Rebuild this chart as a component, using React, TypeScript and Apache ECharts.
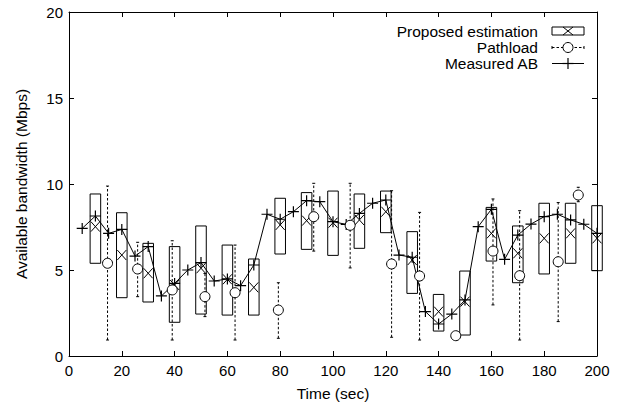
import React, { useEffect, useRef } from "react";
import * as echarts from "echarts";

// Measured available bandwidth (Mbps) every 5 s
const measuredTime = [5, 10, 15, 20, 25, 30, 35, 40, 45, 50, 55, 60, 65, 70, 75, 80, 85, 90, 95, 100, 105, 110, 115, 120, 125, 130, 135, 140, 145, 150, 155, 160, 165, 170, 175, 180, 185, 190, 195, 200];
const measuredAB = [7.42, 8.14, 7.13, 7.36, 5.81, 6.36, 3.49, 4.22, 5.0, 5.43, 4.36, 4.48, 4.09, 5.29, 8.24, 7.95, 8.39, 9.03, 8.97, 7.81, 7.65, 8.29, 8.88, 9.07, 5.87, 5.74, 2.58, 1.86, 2.44, 3.26, 7.52, 8.53, 5.62, 7.03, 7.67, 8.1, 8.24, 7.91, 7.66, 7.13];

// Proposed estimation: range box and point estimate every 10 s
const boxTime = [10, 20, 30, 40, 50, 60, 70, 80, 90, 100, 110, 120, 130, 140, 150, 160, 170, 180, 190, 200];
const boxLow = [5.39, 3.39, 3.14, 1.96, 2.44, 2.38, 2.38, 5.93, 6.2, 5.85, 6.26, 7.17, 3.64, 1.45, 1.22, 5.52, 4.26, 4.77, 5.39, 4.96];
const boxHigh = [9.42, 8.33, 6.55, 6.36, 7.56, 6.45, 5.64, 9.17, 9.5, 9.59, 9.42, 9.59, 7.23, 3.58, 4.94, 8.64, 7.56, 8.88, 8.88, 8.74];
const boxEstimate = [7.52, 5.87, 4.81, 4.13, 5.1, 4.46, 3.99, 7.62, 7.87, 7.75, 7.91, 8.39, 5.58, 2.58, 3.16, 7.13, 5.97, 6.84, 7.13, 6.84];

// Pathload: estimate with range
const pathloadTime = [14.6, 26, 39.1, 51.5, 62.9, 79.3, 92.7, 106.5, 122.2, 132.8, 146.5, 160.6, 170.7, 185.3, 192.9];
const pathloadValue = [5.39, 5.06, 3.84, 3.45, 3.68, 2.67, 8.1, 7.6, 5.35, 4.65, 1.18, 6.1, 4.67, 5.48, 9.36];
const pathloadLow = [0.93, 3.45, 0.93, 2.29, 0.93, 1.03, 6.1, 5.12, 1.09, 0.93, 1.05, 2.97, 0.93, 2.0, 8.97];
const pathloadHigh = [9.88, 6.61, 6.7, 4.8, 6.45, 4.26, 10.04, 10.04, 9.61, 8.35, 1.3, 9.13, 8.45, 8.92, 9.81];

const xMin = 0, xMax = 200, xStep = 20;
const yMin = 0, yMax = 20, yStep = 5;

const legendLabels = ["Proposed estimation", "Pathload", "Measured AB"];

const FONT = "'Liberation Sans', Arial, Helvetica, sans-serif";
const FS = 15;
const FT = 15.5;

export default function App() {
  const ref = useRef<HTMLDivElement>(null);
  useEffect(() => {
    if (!ref.current) return;
    const chart = echarts.init(ref.current, null, { renderer: "svg" });
    const black = "#000";
    const boxData = boxTime.map((t, i) => [t, boxLow[i], boxHigh[i], boxEstimate[i]]);
    const pathData = pathloadTime.map((t, i) => [t, pathloadValue[i], pathloadLow[i], pathloadHigh[i]]);
    const lineData = measuredTime.map((t, i) => [t, measuredAB[i]]);

    const baseX = {
      type: "value",
      min: xMin,
      max: xMax,
      interval: xStep,
      splitLine: { show: false },
      axisLine: { show: true, onZero: false, lineStyle: { color: black, width: 1 } },
      axisTick: { show: true, inside: true, length: 5, lineStyle: { color: black } },
    };
    const baseY = {
      type: "value",
      min: yMin,
      max: yMax,
      interval: yStep,
      splitLine: { show: false },
      axisLine: { show: true, onZero: false, lineStyle: { color: black, width: 1 } },
      axisTick: { show: true, inside: true, length: 5, lineStyle: { color: black } },
    };

    const lx = 538;
    const sx0 = 552, sx1 = 584, sxc = 568;
    const r1 = 31, r2 = 47.5, r3 = 63.5;
    const ls = { stroke: black, lineWidth: 1 };

    chart.setOption({
      animation: false,
      backgroundColor: "#fff",
      grid: { left: 69, right: 26, top: 12, bottom: 51, containLabel: false },
      xAxis: [
        {
          ...baseX,
          position: "bottom",
          name: "Time (sec)",
          nameLocation: "middle",
          nameGap: 29,
          nameTextStyle: { color: black, fontFamily: FONT, fontSize: FT },
          axisLabel: { color: black, fontFamily: FONT, fontSize: FS, margin: 7 },
        },
        { ...baseX, position: "top", axisLabel: { show: false } },
      ],
      yAxis: [
        {
          ...baseY,
          position: "left",
          name: "Available bandwidth (Mbps)",
          nameLocation: "middle",
          nameGap: 40,
          nameTextStyle: { color: black, fontFamily: FONT, fontSize: FT },
          axisLabel: { color: black, fontFamily: FONT, fontSize: FS, margin: 6 },
        },
        { ...baseY, position: "right", axisLabel: { show: false } },
      ],
      series: [
        {
          type: "custom",
          name: "Proposed estimation",
          data: boxData,
          encode: { x: 0, y: [1, 2, 3] },
          clip: false,
          renderItem: (params: any, api: any) => {
            const t = api.value(0), lo = api.value(1), hi = api.value(2), est = api.value(3);
            const a = api.coord([t - 2, lo]);
            const b = api.coord([t + 2, hi]);
            const e = api.coord([t, est]);
            return {
              type: "group",
              children: [
                { type: "rect", shape: { x: a[0], y: b[1], width: b[0] - a[0], height: a[1] - b[1] }, style: { fill: "none", stroke: black, lineWidth: 1 } },
                { type: "line", shape: { x1: e[0] - 4.5, y1: e[1] - 5, x2: e[0] + 4.5, y2: e[1] + 5 }, style: ls },
                { type: "line", shape: { x1: e[0] - 4.5, y1: e[1] + 5, x2: e[0] + 4.5, y2: e[1] - 5 }, style: ls },
              ],
            };
          },
          z: 2,
        },
        {
          type: "line",
          name: "Measured AB",
          data: lineData,
          clip: false,
          symbol: "path://M0,5L10,5M5,0L5,10",
          symbolSize: 11,
          showAllSymbol: true,
          lineStyle: { color: black, width: 1 },
          itemStyle: { color: black, borderColor: black, borderWidth: 1.2 },
          z: 3,
        },
        {
          type: "custom",
          name: "Pathload",
          data: pathData,
          encode: { x: 0, y: [1, 2, 3] },
          clip: false,
          renderItem: (params: any, api: any) => {
            const t = api.value(0), v = api.value(1), lo = api.value(2), hi = api.value(3);
            const p = api.coord([t, v]);
            const pl = api.coord([t, lo]);
            const ph = api.coord([t, hi]);
            return {
              type: "group",
              children: [
                { type: "line", shape: { x1: p[0], y1: pl[1], x2: p[0], y2: ph[1] }, style: { stroke: black, lineWidth: 1, lineDash: [2.5, 2] } },
                { type: "line", shape: { x1: p[0] - 1.5, y1: pl[1], x2: p[0] + 1.5, y2: pl[1] }, style: ls },
                { type: "line", shape: { x1: p[0] - 1.5, y1: ph[1], x2: p[0] + 1.5, y2: ph[1] }, style: ls },
                { type: "circle", shape: { cx: p[0], cy: p[1], r: 5 }, style: { fill: "#fff", stroke: black, lineWidth: 1 } },
              ],
            };
          },
          z: 4,
        },
      ],
      graphic: [
        { type: "text", x: lx, y: r1, style: { text: legendLabels[0], fill: black, font: `${FT}px ${FONT}`, align: "right", verticalAlign: "middle" } },
        { type: "text", x: lx, y: r2, style: { text: legendLabels[1], fill: black, font: `${FT}px ${FONT}`, align: "right", verticalAlign: "middle" } },
        { type: "text", x: lx, y: r3, style: { text: legendLabels[2], fill: black, font: `${FT}px ${FONT}`, align: "right", verticalAlign: "middle" } },
        { type: "rect", shape: { x: sx0, y: r1 - 4, width: sx1 - sx0, height: 8 }, style: { fill: "none", stroke: black, lineWidth: 1 } },
        { type: "line", shape: { x1: sxc - 5, y1: r1 - 4, x2: sxc + 5, y2: r1 + 4 }, style: ls },
        { type: "line", shape: { x1: sxc - 5, y1: r1 + 4, x2: sxc + 5, y2: r1 - 4 }, style: ls },
        { type: "line", shape: { x1: sx0, y1: r2, x2: sx1, y2: r2 }, style: { stroke: black, lineWidth: 1, lineDash: [2.5, 2] } },
        { type: "line", shape: { x1: sx0, y1: r2 - 1.5, x2: sx0, y2: r2 + 1.5 }, style: ls },
        { type: "line", shape: { x1: sx1, y1: r2 - 1.5, x2: sx1, y2: r2 + 1.5 }, style: ls },
        { type: "circle", shape: { cx: sxc, cy: r2, r: 5 }, style: { fill: "#fff", stroke: black, lineWidth: 1 } },
        { type: "line", shape: { x1: sx0, y1: r3, x2: sx1, y2: r3 }, style: ls },
        { type: "line", shape: { x1: sxc, y1: r3 - 5.5, x2: sxc, y2: r3 + 5.5 }, style: { stroke: black, lineWidth: 1.2 } },
        { type: "line", shape: { x1: sxc - 5.5, y1: r3, x2: sxc + 5.5, y2: r3 }, style: { stroke: black, lineWidth: 1.2 } },
      ],
    });
    return () => chart.dispose();
  }, []);
  return <div ref={ref} style={{ width: 623, height: 407, position: "absolute", left: 0, top: 0 }} />;
}
